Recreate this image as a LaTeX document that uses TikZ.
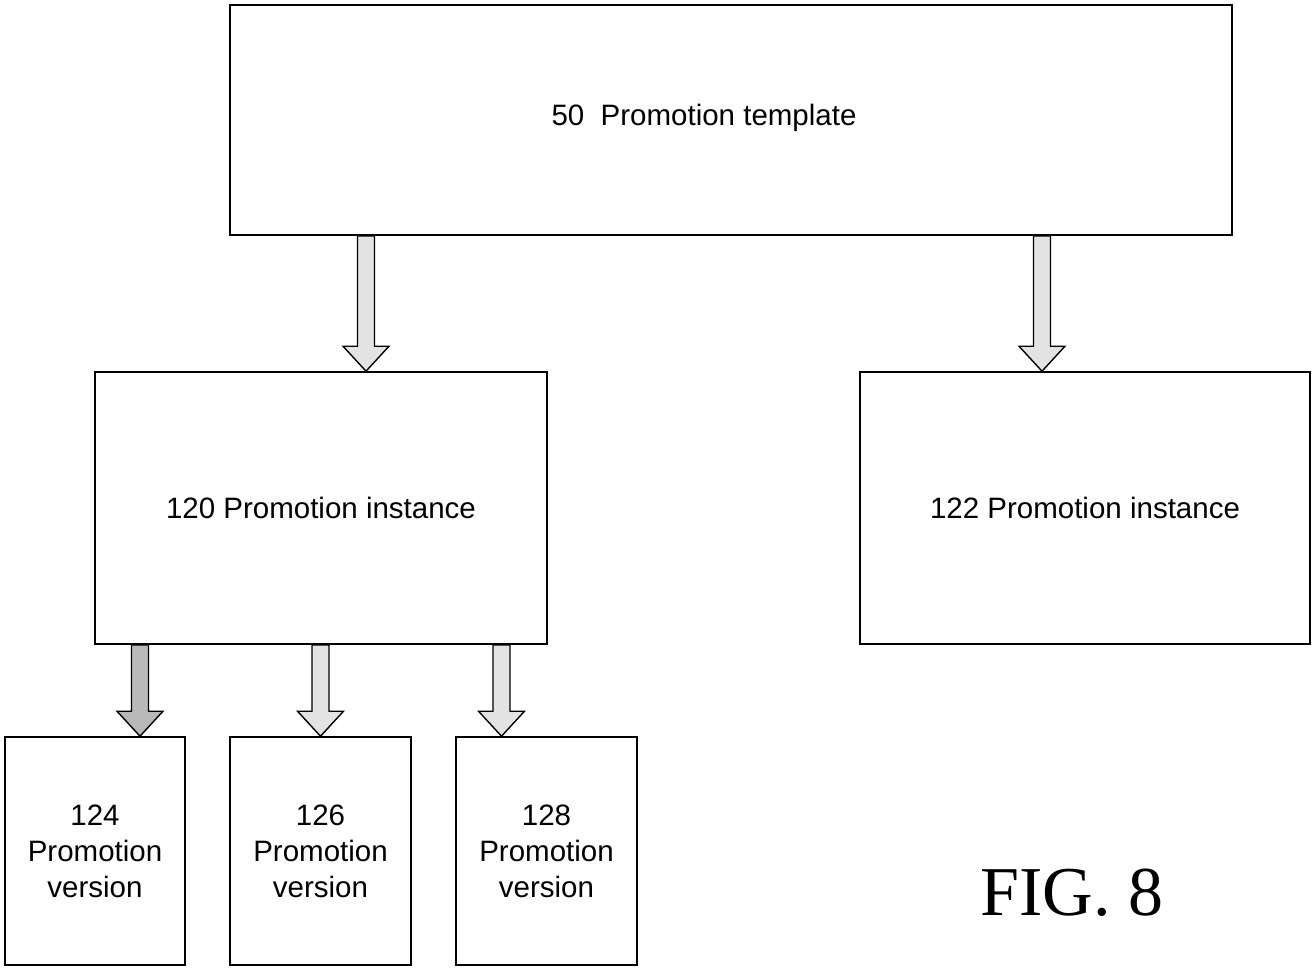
\documentclass[tikz,border=0pt]{standalone}
\usepackage{fontspec}
\setmainfont{Liberation Sans}
\newfontfamily\figfont{Liberation Serif}
\usetikzlibrary{calc}
\tikzset{promotext/.style = {inner sep=0pt, align=center, font=\fontsize{29.5}{36}\selectfont},
         promobox/.style = {promotext, draw, line width=1.6pt},
         arrowfill/.style = {draw=black, fill=gray!22, line width=1.4pt, line join=miter}}
\newcommand\promoarrow[3][arrowfill]{%
  \filldraw[#1] let \p1=(#2), \p2=(#3) in
    (\x1-8.5pt,\y2) -- (\x1-8.5pt,\y1+25pt) -- (\x1-23pt,\y1+25pt) -- (\x1,\y1)
    -- (\x1+23pt,\y1+25pt) -- (\x1+8.5pt,\y1+25pt) -- (\x1+8.5pt,\y2) -- cycle;}

\begin{document}
\begin{tikzpicture}[x=1pt,y=1pt]
    \useasboundingbox (0,0) rectangle (1312,-969);

    \node[promobox, minimum width=1002pt, minimum height=230pt] (t50) at (731,-120) {};
    \node[promotext] (t50txt) at (704,-118) {50\ \ Promotion template};

    \node[promobox, minimum width=452pt, minimum height=272pt] (i120) at (321,-508) {120 Promotion instance};
    \node[promobox, minimum width=450pt, minimum height=272pt] (i122) at (1085,-508) {122 Promotion instance};

    \node[promobox, minimum width=180pt, minimum height=228pt] (v124) at (95,-851) {124\\Promotion\\version};
    \node[promobox, minimum width=181pt, minimum height=228pt] (v126) at (320.5,-851) {126\\Promotion\\version};
    \node[promobox, minimum width=181pt, minimum height=228pt] (v128) at (546.5,-851) {128\\Promotion\\version};

    \promoarrow{$(i120.north)+(45pt,0)$}{t50.south}
    \promoarrow{$(i122.north)+(-43pt,0)$}{t50.south}
    \promoarrow[arrowfill, fill=gray!55]{$(v124.north)+(45pt,0)$}{i120.south}
    \promoarrow{v126.north}{i120.south}
    \promoarrow{$(v128.north)+(-45pt,0)$}{i120.south}

    \node[font=\figfont\fontsize{70}{80}\selectfont] (fig) at (1072,-893) {FIG. 8};
\end{tikzpicture}
\end{document}
